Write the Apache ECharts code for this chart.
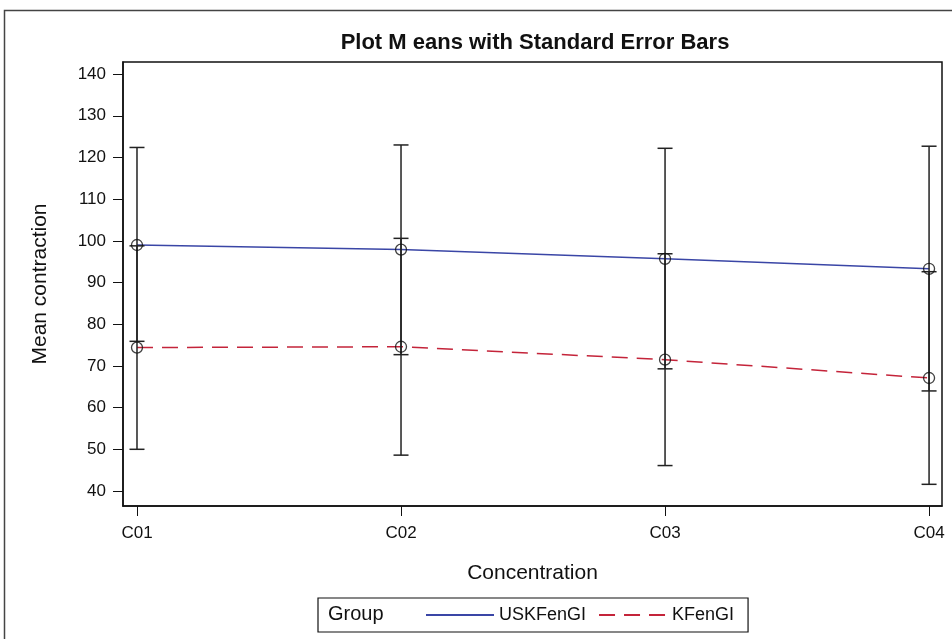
<!DOCTYPE html>
<html>
<head>
<meta charset="utf-8">
<style>
  html, body { margin: 0; padding: 0; background: #fff; }
  #chart { width: 952px; height: 639px; }
</style>
<script src="https://cdn.jsdelivr.net/npm/echarts@6/dist/echarts.min.js"></script>
</head>
<body>
<div id="chart"></div>
<script>
  // values
  var categories = ['C01', 'C02', 'C03', 'C04'];
  var yTicks = [40, 50, 60, 70, 80, 90, 100, 110, 120, 130, 140];

  var uskMean = [99.0, 97.9, 95.7, 93.3];
  var uskLow = [75.9, 72.7, 69.3, 64.0];
  var uskHigh = [122.4, 123.0, 122.2, 122.7];

  var kMean = [74.4, 74.6, 71.5, 67.1];
  var kLow = [50.0, 48.6, 46.1, 41.6];
  var kHigh = [98.8, 100.6, 96.9, 92.6];

  var font = "'Liberation Sans Narrow', 'Liberation Sans', Arial, sans-serif";

  var chartDom = document.getElementById('chart');
  var myChart = echarts.init(chartDom, null, {renderer: 'canvas'});

  function points(means) {
    return means.map(function (v, i) { return [i + 1, v]; });
  }
  function bars(lo, hi) {
    return lo.map(function (v, i) { return [i + 1, v, hi[i]]; });
  }

  function renderBar(params, api) {
    var x = api.value(0);
    var p1 = api.coord([x, api.value(1)]);
    var p2 = api.coord([x, api.value(2)]);
    var half = 7.5;
    var style = {stroke: '#222', lineWidth: 1.5};
    return {
      type: 'group',
      children: [
        {type: 'line', shape: {x1: p1[0], y1: p1[1], x2: p2[0], y2: p2[1]}, style: style},
        {type: 'line', shape: {x1: p1[0] - half, y1: p1[1], x2: p1[0] + half, y2: p1[1]}, style: style},
        {type: 'line', shape: {x1: p2[0] - half, y1: p2[1], x2: p2[0] + half, y2: p2[1]}, style: style}
      ]
    };
  }

  var option = {
    backgroundColor: '#fff',
    animation: false,
    title: {
      text: 'Plot M eans with Standard Error Bars',
      left: 530,
      top: 27,
      textAlign: 'center',
      textStyle: {fontFamily: font, fontWeight: 'bold', fontSize: 22, color: '#111'}
    },
    graphic: [
      {
        type: 'rect',
        silent: true,
        shape: {x: 4.5, y: 10.5, width: 1000, height: 700},
        style: {fill: 'none', stroke: '#444', lineWidth: 1.5}
      },
      {
        type: 'text',
        left: 328,
        top: 604,
        style: {text: 'Group', font: '20px ' + font, fill: '#111'}
      }
    ],
    legend: {
      left: 318,
      top: 598,
      data: ['USKFenGI', 'KFenGI'],
      itemWidth: 68,
      itemHeight: 14,
      itemGap: 12,
      itemStyle: {opacity: 0},
      padding: [8, 14, 8, 107],
      borderColor: '#111',
      borderWidth: 1.2,
      textStyle: {fontFamily: font, fontSize: 18, color: '#111'}
    },
    grid: {
      left: 123,
      right: 10,
      top: 62,
      bottom: 133,
      show: true,
      borderColor: '#111',
      borderWidth: 1.5,
      containLabel: false
    },
    xAxis: {
      type: 'value',
      min: 0.947,
      max: 4.049,
      name: 'Concentration',
      nameLocation: 'middle',
      nameGap: 57,
      nameTextStyle: {fontFamily: font, fontSize: 21, color: '#111'},
      splitLine: {show: false},
      axisLine: {lineStyle: {color: '#111', width: 1.5}},
      axisTick: {
        inside: false,
        length: 10,
        customValues: [1, 2, 3, 4],
        lineStyle: {color: '#111', width: 1}
      },
      axisLabel: {
        customValues: [1, 2, 3, 4],
        margin: 19,
        fontFamily: font,
        fontSize: 17,
        color: '#111',
        formatter: function (v) { return categories[Math.round(v) - 1]; }
      }
    },
    yAxis: {
      type: 'value',
      min: 36.4,
      max: 142.9,
      name: 'Mean contraction',
      nameLocation: 'middle',
      nameGap: 72,
      nameTextStyle: {fontFamily: font, fontSize: 21, color: '#111'},
      splitLine: {show: false},
      axisLine: {lineStyle: {color: '#111', width: 1.5}},
      axisTick: {
        inside: false,
        length: 10,
        customValues: yTicks,
        lineStyle: {color: '#111', width: 1}
      },
      axisLabel: {
        customValues: yTicks,
        margin: 17,
        fontFamily: font,
        fontSize: 17,
        color: '#111'
      }
    },
    series: [
      {
        name: 'USKFenGI',
        type: 'line',
        data: points(uskMean),
        symbol: 'none',
        color: '#3a46a6',
        lineStyle: {color: '#3a46a6', width: 1.5, type: 'solid'},
        z: 2
      },
      {
        name: 'KFenGI',
        type: 'line',
        data: points(kMean),
        symbol: 'none',
        color: '#c4243a',
        lineStyle: {color: '#c4243a', width: 1.5, type: [16, 9]},
        z: 2
      },
      {
        name: 'bars',
        type: 'custom',
        renderItem: renderBar,
        data: bars(uskLow, uskHigh).concat(bars(kLow, kHigh)),
        encode: {x: 0, y: [1, 2]},
        z: 3
      },
      {
        name: 'means',
        type: 'scatter',
        data: points(uskMean).concat(points(kMean)),
        symbol: 'circle',
        symbolSize: 11,
        itemStyle: {color: 'rgba(0,0,0,0)', borderColor: '#111', borderWidth: 1.3},
        z: 4
      }
    ]
  };

  option && myChart.setOption(option);
</script>
</body>
</html>
